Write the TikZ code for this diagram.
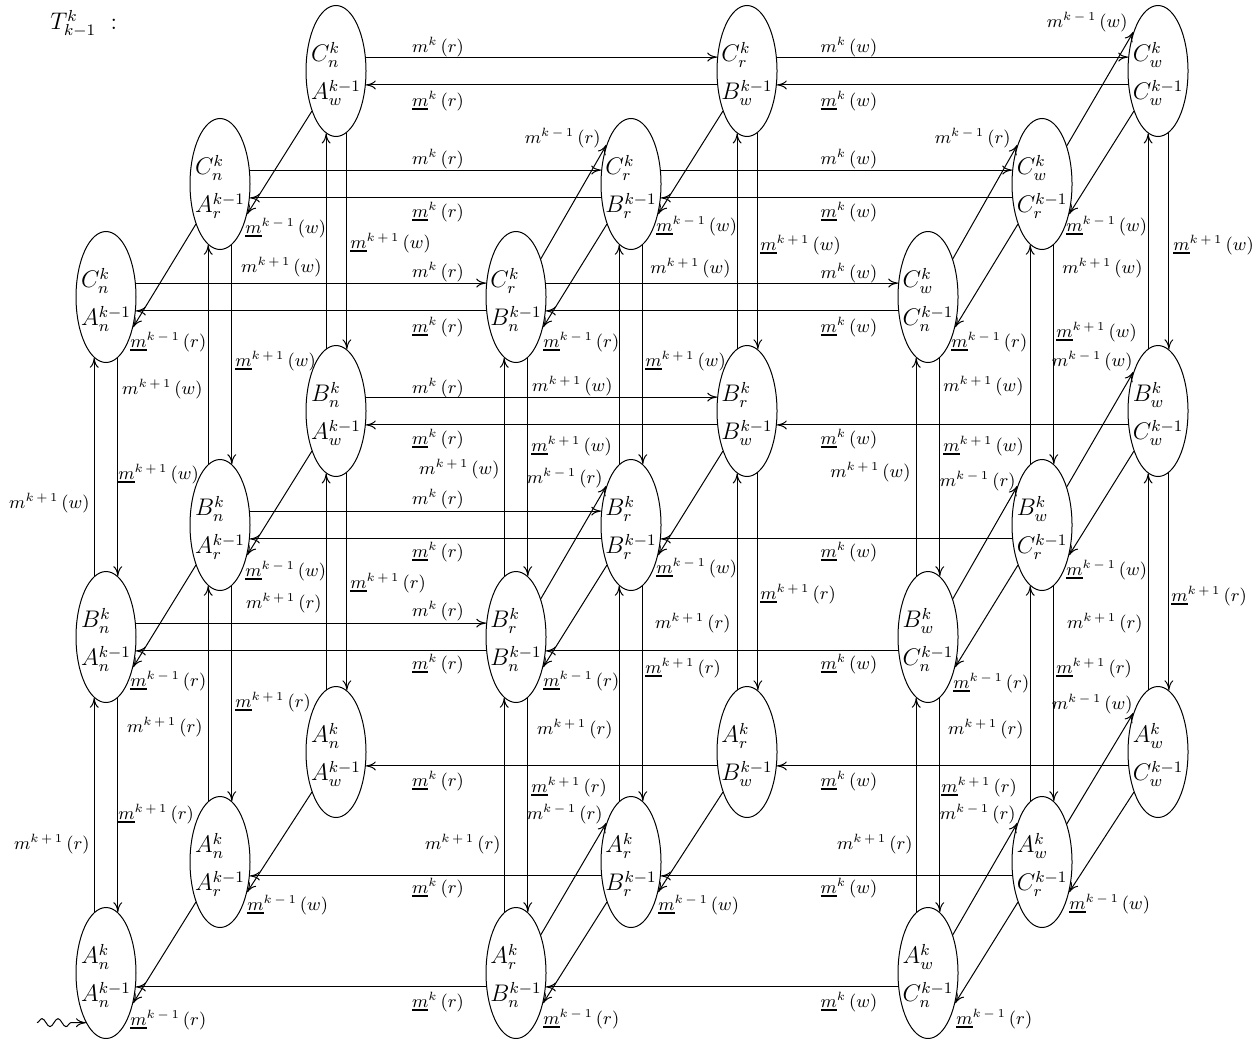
\documentclass[tikz,border=0pt]{standalone}
\usetikzlibrary{arrows.meta,shapes.geometric,decorations.pathmorphing}
\newcommand{\um}{\mathord{\vtop{\hbox{$m$}\kern0.8pt\hrule height 0.9pt}}}
\newcommand{\mlab}[2]{$m^{#1}\mkern3mu(#2)$}
\newcommand{\ulab}[2]{$\um^{#1}\mkern3mu(#2)$}
\newcommand{\kp}{k\mkern3mu+\mkern3mu1}
\newcommand{\km}{k\mkern3mu-\mkern3mu1}
\newcommand{\tstrut}{\rule{0pt}{12.8pt}}
\tikzset{
  st/.style={draw, ellipse, line width=0.5pt, minimum width=30pt, minimum height=65.5pt,
    inner xsep=-3pt, inner ysep=0pt, align=left, font=\fontsize{11.5}{19}\selectfont},
  ar/.style={line width=0.5pt, -{Computer Modern Rightarrow[length=5pt,width=4.5pt]}},
  lab/.style={inner sep=0pt, font=\fontsize{9}{10}\selectfont},
}
\begin{document}
\begin{tikzpicture}[x=0.5pt,y=-0.5pt]
\useasboundingbox (0,0) rectangle (1256,1038);
% title
\node[anchor=base west, inner sep=0pt, font=\fontsize{12}{14}\selectfont] (title) at (50,30) {$T^{k}_{k-1}\ :$};
% ---- nodes: layer f (front), m (middle), b (back); rows C,B,A; columns n,r,w
\node[st] (bCn) at (336,71)  {\tstrut$C_n^k$\\$A_w^{k-1}$};
\node[st] (bCr) at (747,71)  {\tstrut$C_r^k$\\$B_w^{k-1}$};
\node[st] (bCw) at (1158,71) {\tstrut$C_w^k$\\$C_w^{k-1}$};
\node[st] (mCn) at (220,184) {\tstrut$C_n^k$\\$A_r^{k-1}$};
\node[st] (mCr) at (631,184) {\tstrut$C_r^k$\\$B_r^{k-1}$};
\node[st] (mCw) at (1042,184) {\tstrut$C_w^k$\\$C_r^{k-1}$};
\node[st] (fCn) at (106,297) {\tstrut$C_n^k$\\$A_n^{k-1}$};
\node[st] (fCr) at (516,297) {\tstrut$C_r^k$\\$B_n^{k-1}$};
\node[st] (fCw) at (928,297) {\tstrut$C_w^k$\\$C_n^{k-1}$};
\node[st] (bBn) at (336,411)  {\tstrut$B_n^k$\\$A_w^{k-1}$};
\node[st] (bBr) at (747,411)  {\tstrut$B_r^k$\\$B_w^{k-1}$};
\node[st] (bBw) at (1158,411) {\tstrut$B_w^k$\\$C_w^{k-1}$};
\node[st] (mBn) at (220,525) {\tstrut$B_n^k$\\$A_r^{k-1}$};
\node[st] (mBr) at (631,525) {\tstrut$B_r^k$\\$B_r^{k-1}$};
\node[st] (mBw) at (1042,525) {\tstrut$B_w^k$\\$C_r^{k-1}$};
\node[st] (fBn) at (106,637) {\tstrut$B_n^k$\\$A_n^{k-1}$};
\node[st] (fBr) at (516,637) {\tstrut$B_r^k$\\$B_n^{k-1}$};
\node[st] (fBw) at (928,637) {\tstrut$B_w^k$\\$C_n^{k-1}$};
\node[st] (bAn) at (336,752)  {\tstrut$A_n^k$\\$A_w^{k-1}$};
\node[st] (bAr) at (747,752)  {\tstrut$A_r^k$\\$B_w^{k-1}$};
\node[st] (bAw) at (1158,752) {\tstrut$A_w^k$\\$C_w^{k-1}$};
\node[st] (mAn) at (220,862) {\tstrut$A_n^k$\\$A_r^{k-1}$};
\node[st] (mAr) at (631,862) {\tstrut$A_r^k$\\$B_r^{k-1}$};
\node[st] (mAw) at (1042,862) {\tstrut$A_w^k$\\$C_r^{k-1}$};
\node[st] (fAn) at (106,973) {\tstrut$A_n^k$\\$A_n^{k-1}$};
\node[st] (fAr) at (516,973) {\tstrut$A_r^k$\\$B_n^{k-1}$};
\node[st] (fAw) at (928,973) {\tstrut$A_w^k$\\$C_n^{k-1}$};
% ---- horizontal edges
\foreach \ly in {f,m,b}{
  \draw[ar] (\ly Cn.25) -- (\ly Cr.155);
  \draw[ar] (\ly Cr.25) -- (\ly Cw.155);
  \draw[ar] (\ly Bn.25) -- (\ly Br.155);
  \foreach \rw in {C,B,A}{
    \draw[ar] (\ly\rw r.205) -- (\ly\rw n.-25);
    \draw[ar] (\ly\rw w.205) -- (\ly\rw r.-25);
  }
}
% ---- vertical edges
\foreach \ly/\ua/\da in {f/101/79, m/101/79, b/99/80}{
  \foreach \cl in {n,r,w}{
    \draw[ar] (\ly A\cl.\ua) -- (\ly B\cl.-\ua);
    \draw[ar] (\ly B\cl.\ua) -- (\ly C\cl.-\ua);
    \draw[ar] (\ly C\cl.-\da) -- (\ly B\cl.\da);
    \draw[ar] (\ly B\cl.-\da) -- (\ly A\cl.\da);
  }
}
% ---- depth edges
\foreach \rw in {C,B,A}{
  \foreach \cl in {n,r,w}{
    \draw[ar] (b\rw\cl.239) -- (m\rw\cl.-48);
    \draw[ar] (m\rw\cl.239) -- (f\rw\cl.-48);
  }
  \draw[ar] (f\rw r.57) -- (m\rw r.122);
  \draw[ar] (f\rw w.57) -- (m\rw w.122);
  \draw[ar] (m\rw w.57) -- (b\rw w.122);
}
% ---- entry squiggle
\coordinate (sq) at (37,1022.6);
\draw[ar, decorate, decoration={snake, amplitude=2pt, segment length=8pt, post length=4pt}] (sq) -- (fAn.248);
% ---- horizontal labels
\node[lab] (h1) at (438,47) {\mlab{k}{r}};
\node[lab] (h2) at (438,101) {\ulab{k}{r}};
\node[lab] (h3) at (849,47) {\mlab{k}{w}};
\node[lab] (h4) at (849,101) {\ulab{k}{w}};
\node[lab] (h5) at (438,159) {\mlab{k}{r}};
\node[lab] (h6) at (438,212) {\ulab{k}{r}};
\node[lab] (h7) at (849,159) {\mlab{k}{w}};
\node[lab] (h8) at (849,212) {\ulab{k}{w}};
\node[lab] (h9) at (438,272) {\mlab{k}{r}};
\node[lab] (h10) at (438,327) {\ulab{k}{r}};
\node[lab] (h11) at (849,273) {\mlab{k}{w}};
\node[lab] (h12) at (849,327) {\ulab{k}{w}};
\node[lab] (h13) at (438,388) {\mlab{k}{r}};
\node[lab] (h14) at (438,439) {\ulab{k}{r}};
\node[lab] (h15) at (849,439) {\ulab{k}{w}};
\node[lab] (h16) at (438,499) {\mlab{k}{r}};
\node[lab] (h17) at (438,552) {\ulab{k}{r}};
\node[lab] (h18) at (849,552) {\ulab{k}{w}};
\node[lab] (h19) at (438,611) {\mlab{k}{r}};
\node[lab] (h20) at (438,664) {\ulab{k}{r}};
\node[lab] (h21) at (849,664) {\ulab{k}{w}};
\node[lab] (h22) at (438,781) {\ulab{k}{r}};
\node[lab] (h23) at (849,781) {\ulab{k}{w}};
\node[lab] (h24) at (438,888) {\ulab{k}{r}};
\node[lab] (h25) at (849,888) {\ulab{k}{w}};
\node[lab] (h26) at (438,1002) {\ulab{k}{r}};
\node[lab] (h27) at (849,1002) {\ulab{k}{w}};
% ---- vertical labels
\node[lab, anchor=east] (v1) at (90,503) {\mlab{\kp}{w}};
\node[lab, anchor=west] (v2) at (118,474) {\ulab{\kp}{w}};
\node[lab, anchor=east] (v3) at (203,389) {\mlab{\kp}{w}};
\node[lab, anchor=west] (v4) at (235,361) {\ulab{\kp}{w}};
\node[lab, anchor=east] (v5) at (322,267) {\mlab{\kp}{w}};
\node[lab, anchor=west] (v6) at (350,243) {\ulab{\kp}{w}};
\node[lab, anchor=east] (v7) at (90,844) {\mlab{\kp}{r}};
\node[lab, anchor=west] (v8) at (118,814) {\ulab{\kp}{r}};
\node[lab, anchor=east] (v9) at (203,727) {\mlab{\kp}{r}};
\node[lab, anchor=west] (v10) at (235,702) {\ulab{\kp}{r}};
\node[lab, anchor=east] (v11) at (322,603) {\mlab{\kp}{r}};
\node[lab, anchor=west] (v12) at (350,583) {\ulab{\kp}{r}};
\node[lab, anchor=east] (v13) at (500,469) {\mlab{\kp}{w}};
\node[lab, anchor=west] (v14) at (531,446) {\ulab{\kp}{w}};
\node[lab, anchor=east] (v15) at (613,386) {\mlab{\kp}{w}};
\node[lab, anchor=west] (v16) at (645,361) {\ulab{\kp}{w}};
\node[lab, anchor=east] (v17) at (731,268) {\mlab{\kp}{w}};
\node[lab, anchor=west] (v18) at (760,245) {\ulab{\kp}{w}};
\node[lab, anchor=east] (v19) at (501,844) {\mlab{\kp}{r}};
\node[lab, anchor=west] (v20) at (531,787) {\ulab{\kp}{r}};
\node[lab, anchor=east] (v21) at (613,729) {\mlab{\kp}{r}};
\node[lab, anchor=west] (v22) at (645,668) {\ulab{\kp}{r}};
\node[lab, anchor=east] (v23) at (731,623) {\mlab{\kp}{r}};
\node[lab, anchor=west] (v24) at (760,594) {\ulab{\kp}{r}};
\node[lab, anchor=east] (v25) at (911,472) {\mlab{\kp}{w}};
\node[lab, anchor=west] (v26) at (943,446) {\ulab{\kp}{w}};
\node[lab, anchor=east] (v27) at (1024,386) {\mlab{\kp}{w}};
\node[lab, anchor=west] (v28) at (1056,332) {\ulab{\kp}{w}};
\node[lab, anchor=east] (v29) at (1143,268) {\mlab{\kp}{w}};
\node[lab, anchor=west] (v30) at (1173,245) {\ulab{\kp}{w}};
\node[lab, anchor=east] (v31) at (913,844) {\mlab{\kp}{r}};
\node[lab, anchor=west] (v32) at (941,787) {\ulab{\kp}{r}};
\node[lab, anchor=east] (v33) at (1024,729) {\mlab{\kp}{r}};
\node[lab, anchor=west] (v34) at (1056,668) {\ulab{\kp}{r}};
\node[lab, anchor=east] (v35) at (1143,623) {\mlab{\kp}{r}};
\node[lab, anchor=west] (v36) at (1171,596) {\ulab{\kp}{r}};
% ---- depth labels (down)
\node[lab, anchor=west] (d1) at (245,228) {\ulab{\km}{w}};
\node[lab, anchor=west] (d2) at (130,342) {\ulab{\km}{r}};
\node[lab, anchor=west] (d3) at (245,571) {\ulab{\km}{w}};
\node[lab, anchor=west] (d4) at (130,681) {\ulab{\km}{r}};
\node[lab, anchor=west] (d5) at (247,905) {\ulab{\km}{w}};
\node[lab, anchor=west] (d6) at (130,1020) {\ulab{\km}{r}};
\node[lab, anchor=west] (d7) at (656,226) {\ulab{\km}{w}};
\node[lab, anchor=west] (d8) at (543,342) {\ulab{\km}{r}};
\node[lab, anchor=west] (d9) at (656,568) {\ulab{\km}{w}};
\node[lab, anchor=west] (d10) at (543,681) {\ulab{\km}{r}};
\node[lab, anchor=west] (d11) at (658,905) {\ulab{\km}{w}};
\node[lab, anchor=west] (d12) at (543,1019) {\ulab{\km}{r}};
\node[lab, anchor=west] (d13) at (1066,226) {\ulab{\km}{w}};
\node[lab, anchor=west] (d14) at (951,342) {\ulab{\km}{r}};
\node[lab, anchor=west] (d15) at (1066,570) {\ulab{\km}{w}};
\node[lab, anchor=west] (d16) at (953,683) {\ulab{\km}{r}};
\node[lab, anchor=west] (d17) at (1069,904) {\ulab{\km}{w}};
\node[lab, anchor=west] (d18) at (956,1019) {\ulab{\km}{r}};
% ---- depth labels (up)
\node[lab, anchor=east] (u1) at (601,138) {\mlab{\km}{r}};
\node[lab, anchor=east] (u2) at (603,478) {\mlab{\km}{r}};
\node[lab, anchor=east] (u3) at (603,814) {\mlab{\km}{r}};
\node[lab, anchor=east] (u4) at (1011,138) {\mlab{\km}{r}};
\node[lab, anchor=east] (u5) at (1016,481) {\mlab{\km}{r}};
\node[lab, anchor=east] (u6) at (1016,814) {\mlab{\km}{r}};
\node[lab, anchor=east] (u7) at (1128,22) {\mlab{\km}{w}};
\node[lab, anchor=east] (u8) at (1133,361) {\mlab{\km}{w}};
\node[lab, anchor=east] (u9) at (1133,704) {\mlab{\km}{w}};
\end{tikzpicture}
\end{document}
